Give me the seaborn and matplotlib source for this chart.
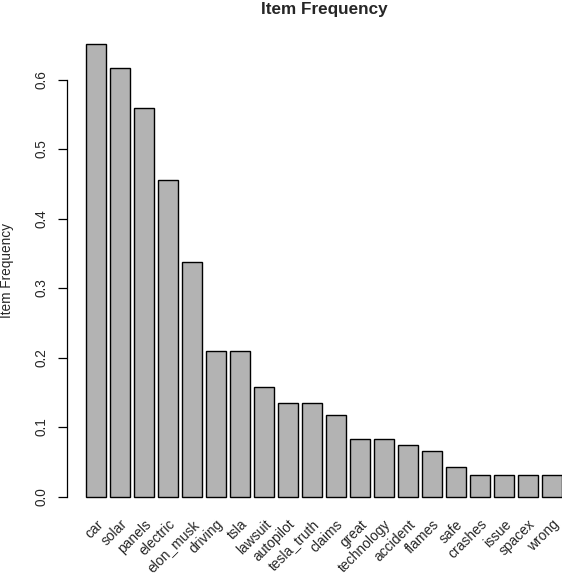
import numpy as np
import pandas as pd
import matplotlib
matplotlib.use('Agg')
import matplotlib.pyplot as plt
import seaborn as sns

# item frequencies
items = ['car', 'solar', 'panels', 'electric', 'elon_musk', 'driving', 'tsla',
         'lawsuit', 'autopilot', 'tesla_truth', 'claims', 'great', 'technology',
         'accident', 'flames', 'safe', 'crashes', 'issue', 'spacex', 'wrong']
freq = [0.651, 0.616, 0.559, 0.455, 0.337, 0.209, 0.209,
        0.157, 0.135, 0.135, 0.118, 0.083, 0.083,
        0.074, 0.066, 0.043, 0.031, 0.031, 0.031, 0.031]
yticks = [0.0, 0.1, 0.2, 0.3, 0.4, 0.5, 0.6]

df = pd.DataFrame({'item': items, 'freq': freq})

sns.set_style('white')
plt.rcParams['font.family'] = ['Liberation Sans', 'DejaVu Sans']

fig = plt.figure(figsize=(5.62, 5.74), dpi=100)
ax = fig.add_axes([67 / 562, 1 - 515 / 574, 514 / 562, 489 / 574])

sns.barplot(data=df, x='item', y='freq', color='#B3B3B3', saturation=1,
            edgecolor='black', linewidth=1.0, width=20 / 24, ax=ax)

ax.set_xlim(-1.208, 20.208)
ax.set_ylim(-0.0265, 0.677)

# R-style axis: only left spine spanning the tick range
for s in ['top', 'right', 'bottom']:
    ax.spines[s].set_visible(False)
ax.spines['left'].set_bounds(0, 0.6)
ax.spines['left'].set_color('black')
ax.spines['left'].set_linewidth(0.9)

ax.set_yticks(yticks)
ax.set_yticklabels([f'{v:.1f}' for v in yticks], rotation=90, va='center',
                   fontsize=9.8)
ax.tick_params(axis='y', length=6.5, width=0.9, color='black', pad=6.5,
               left=True)

ax.set_xticks(range(len(items)))
ax.set_xticklabels(items, rotation=45, ha='right', va='top',
                   rotation_mode='anchor', fontsize=10)
ax.tick_params(axis='x', length=0, pad=1.5)

ax.set_xlabel('')
ax.set_ylabel('Item Frequency', fontsize=9.8, labelpad=15)

fig.text(324 / 562, 1 - 9.5 / 574, 'Item Frequency', ha='center', va='center',
         fontsize=12.3, fontweight='bold')

fig.savefig('out.png', dpi=100)
